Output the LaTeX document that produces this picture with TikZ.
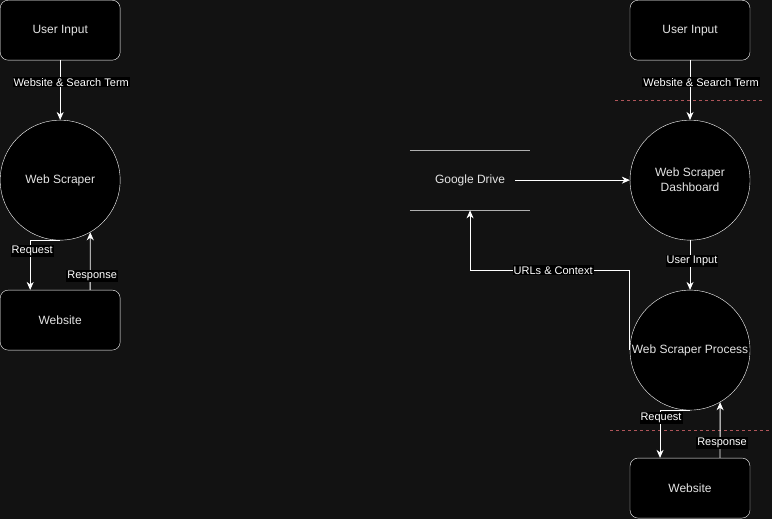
\documentclass[tikz,border=0pt]{standalone}
\usepackage{fontspec}
\setmainfont{Liberation Sans}
\usetikzlibrary{positioning, arrows.meta, calc}

\definecolor{bgdark}{RGB}{18,18,18}
\definecolor{lanered}{RGB}{175,85,90}
\definecolor{txtgray}{RGB}{228,228,228}
\definecolor{linegray}{RGB}{175,175,175}

\begin{document}
\begin{tikzpicture}[x=1pt, y=-1pt, node distance=150pt, on grid,
    box/.style={draw=white, fill=black, rounded corners=8pt, minimum width=120pt,
      minimum height=60pt, text=txtgray, font=\fontsize{12}{15}\selectfont},
    bubble/.style={draw=white, fill=black, circle, minimum size=120pt, inner sep=0pt,
      text=txtgray, align=center, font=\fontsize{12}{15}\selectfont},
    store/.style={minimum width=120pt, minimum height=60pt, text=txtgray,
      font=\fontsize{12}{15}\selectfont},
    lbl/.style={fill=black, text=white, inner sep=1pt, font=\fontsize{11}{13}\selectfont},
    flow/.style={draw=white, line width=0.9pt, -{Stealth[length=8pt, width=7pt, inset=2.5pt]}},
    lane/.style={draw=lanered, line width=0.8pt, dash pattern=on 3pt off 3pt}]

  \fill[bgdark] (0,0) rectangle (772,519);

  % left: context level
  \node[box]    (ui1)   at (60,30)      {User Input};
  \node[bubble] (ws1)   [below=of ui1]  {Web Scraper};
  \node[box]    (site1) [below=140pt of ws1] {Website};

  % right: level 1
  \node[box]    (ui2)   at (690,30)     {User Input};
  \node[bubble] (dash)  [below=of ui2]  {Web Scraper\\Dashboard};
  \node[bubble] (proc)  [below=170pt of dash] {Web Scraper Process};
  \node[box]    (site2) [below=138pt of proc] {Website};
  \node[store]  (drive) [left=220pt of dash] {Google Drive};
  \draw[linegray, line width=0.9pt] (drive.north west) -- (drive.north east);
  \draw[linegray, line width=0.9pt] (drive.south west) -- (drive.south east);

  \draw[lane] (615,100) -- (763,100);
  \draw[lane] (610,430) -- (770,430);

  \draw[flow] (ui1) -- node[lbl, pos=0.37, xshift=11pt] {Website \& Search Term} (ws1);
  \draw[flow] (ws1.south) -| node[lbl, pos=0.61, xshift=2pt] {Request} ([xshift=-30pt]site1.north);
  \draw[flow] ([xshift=30pt]site1.north) -- node[lbl, pos=0.24, xshift=2pt] {Response} (ws1.-60);

  \draw[flow] (ui2) -- node[lbl, pos=0.37, xshift=11pt] {Website \& Search Term} (dash);
  \draw[flow] ([xshift=-15pt]drive.east) -- (dash.west);
  \draw[flow] (dash) -- node[lbl, pos=0.42, xshift=2pt] {User Input} (proc);
  \draw[flow] (proc.west) |- node[lbl, pos=0.74] {URLs \& Context}
    ([yshift=-60pt]drive.south) -- (drive.south);
  \draw[flow] (proc.south) -| node[lbl, pos=0.58, xshift=1pt] {Request} ([xshift=-30pt]site2.north);
  \draw[flow] ([xshift=30pt]site2.north) -- node[lbl, pos=0.27, xshift=2pt] {Response} (proc.-60);
\end{tikzpicture}
\end{document}
